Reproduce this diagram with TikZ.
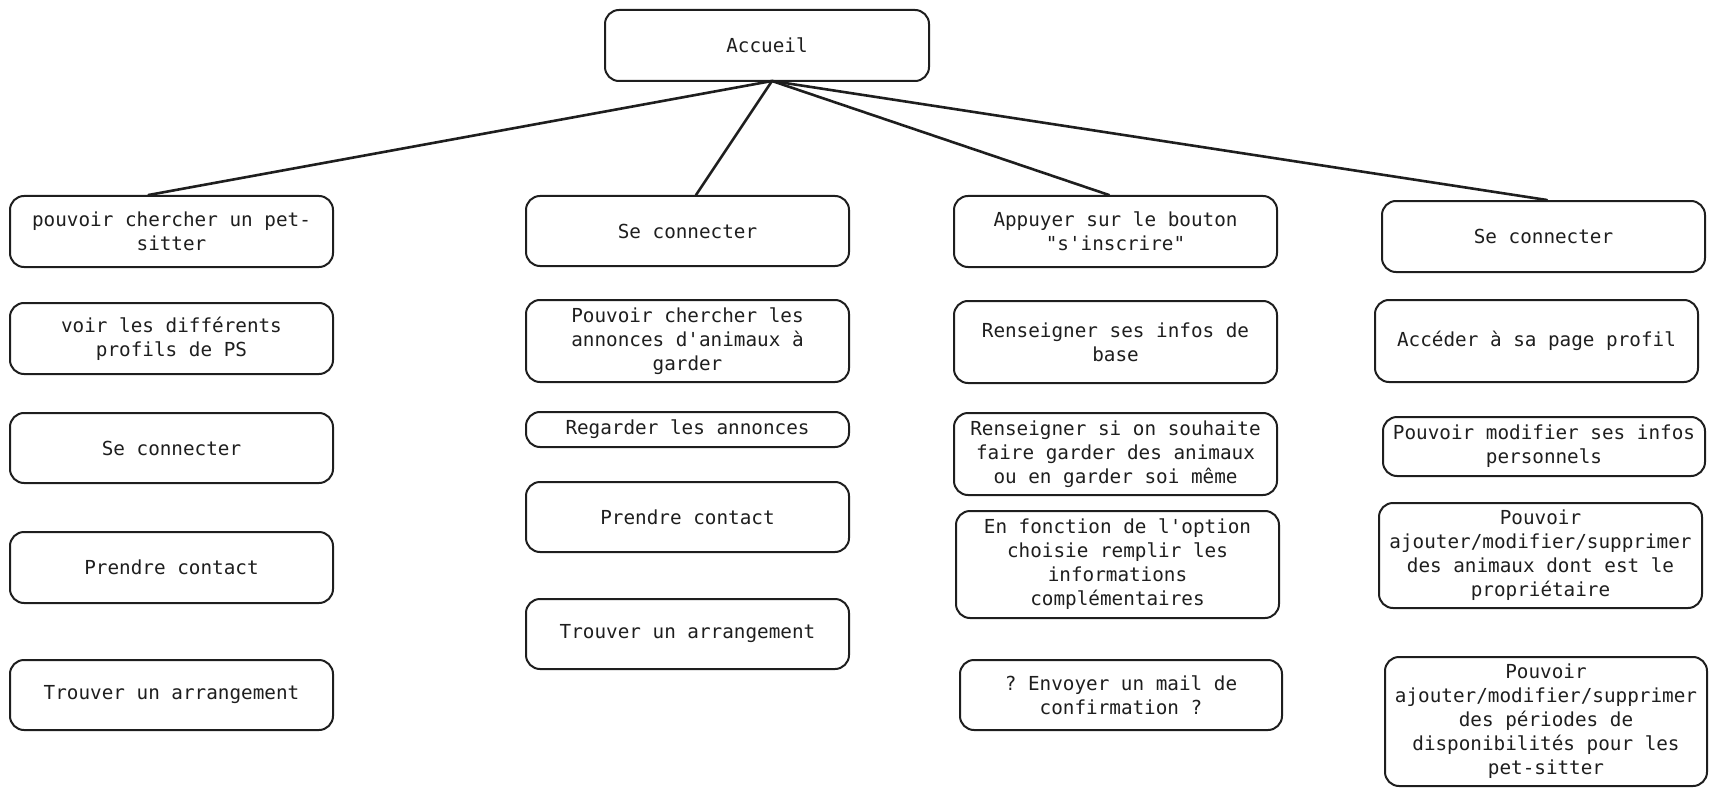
\documentclass[tikz,border=0pt]{standalone}
\usepackage{fontspec}
\setmonofont{DejaVu Sans Mono}
\usetikzlibrary{calc}
\definecolor{ink}{HTML}{1E1E1E}
\begin{document}
\begin{tikzpicture}[x=1pt,y=-1pt,
  card/.style={draw=ink, line width=2pt, rounded corners=14pt, text=ink,
    font=\ttfamily\fontsize{19.3}{24}\selectfont, align=center, inner sep=0pt},
  link/.style={draw=ink, line width=2.6pt, line cap=round}]
\useasboundingbox (0,0) rectangle (1717,797);

% root
\node[card, minimum width=324pt, minimum height=71pt] (root) at (767,45.5) {Accueil};
\coordinate (hub) at (772,81);

% column 1 : search a pet-sitter
\node[card, minimum width=323pt, minimum height=71pt] (a1) at (171.5,231.5) {pouvoir chercher un pet-\\sitter};
\node[card, minimum width=323pt, minimum height=71pt] (a2) at (171.5,338.5) {voir les différents\\profils de PS};
\node[card, minimum width=323pt, minimum height=70pt] (a3) at (171.5,448) {Se connecter};
\node[card, minimum width=323pt, minimum height=71pt] (a4) at (171.5,567.5) {Prendre contact};
\node[card, minimum width=323pt, minimum height=70pt] (a5) at (171.5,695) {Trouver un arrangement};

% column 2 : browse the listings
\node[card, minimum width=323pt, minimum height=70pt] (b1) at (687.5,231) {Se connecter};
\node[card, minimum width=323pt, minimum height=82pt] (b2) at (687.5,341) {Pouvoir chercher les\\annonces d'animaux à\\garder};
\node[card, minimum width=323pt, minimum height=35pt] (b3) at (687.5,429.5) {Regarder les annonces};
\node[card, minimum width=323pt, minimum height=70pt] (b4) at (687.5,517) {Prendre contact};
\node[card, minimum width=323pt, minimum height=70pt] (b5) at (687.5,634) {Trouver un arrangement};

% column 3 : sign up
\node[card, minimum width=323pt, minimum height=71pt] (c1) at (1115.5,231.5) {Appuyer sur le bouton\\"s'inscrire"};
\node[card, minimum width=323pt, minimum height=82pt] (c2) at (1115.5,342) {Renseigner ses infos de\\base};
\node[card, minimum width=323pt, minimum height=82pt] (c3) at (1115.5,454) {Renseigner si on souhaite\\faire garder des animaux\\ou en garder soi même};
\node[card, minimum width=323pt, minimum height=107pt] (c4) at (1117.5,564.5) {En fonction de l'option\\choisie remplir les\\informations\\complémentaires};
\node[card, minimum width=322pt, minimum height=70pt] (c5) at (1121,695) {? Envoyer un mail de\\confirmation ?};

% column 4 : profile
\node[card, minimum width=323pt, minimum height=71pt] (d1) at (1543.5,236.5) {Se connecter};
\node[card, minimum width=323pt, minimum height=82pt] (d2) at (1536.5,341) {Accéder à sa page profil};
\node[card, minimum width=322pt, minimum height=59pt] (d3) at (1544,446.5) {Pouvoir modifier ses infos\\personnels};
\node[card, minimum width=323pt, minimum height=105pt] (d4) at (1540.5,555.5) {Pouvoir\\ajouter/modifier/supprimer\\des animaux dont est le\\propriétaire};
\node[card, minimum width=322pt, minimum height=129pt] (d5) at (1546,721.5) {Pouvoir\\ajouter/modifier/supprimer\\des périodes de\\disponibilités pour les\\pet-sitter};

% branches from the home page
\draw[link] (hub) -- ($(a1.north)+(-23,0)$);
\draw[link] (hub) -- ($(b1.north)+(8.5,0)$);
\draw[link] (hub) -- ($(c1.north)+(-6.5,0)$);
\draw[link] (hub) -- ($(d1.north)+(3.5,0)$);
\end{tikzpicture}
\end{document}
